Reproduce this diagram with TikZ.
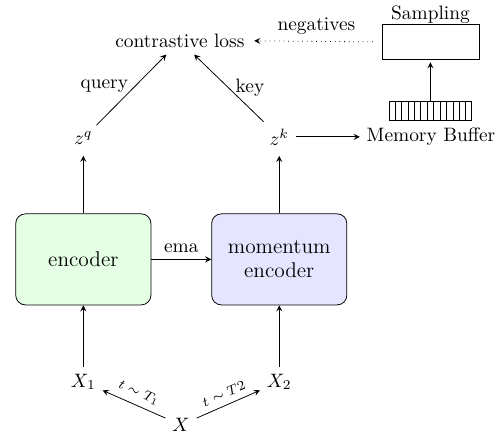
\documentclass[tikz,border=0pt]{standalone}
\usetikzlibrary{calc}

\tikzset{
	encbox/.style={draw, rounded corners=5pt, minimum width=2.45cm, minimum height=1.65cm, align=center, font=\fontsize{11}{12.5}\selectfont},
	arr/.style={->, >=stealth},
}

\begin{document}
\begin{tikzpicture}
\useasboundingbox (0,0) rectangle (9.06,7.92);

\node (loss) at (3.26,7.18) {contrastive loss};
\node[draw, minimum width=1.76cm, minimum height=0.65cm, label={[inner sep=0pt]above:Sampling}] (samp) at (7.80,7.16) {};

\node[draw, minimum width=1.50cm, minimum height=0.33cm, inner sep=0pt] (buf) at (7.80,5.91) {};
\foreach \i in {1,...,12}{
	\draw ($(buf.north west)!\i/13!(buf.north east)$) -- ($(buf.south west)!\i/13!(buf.south east)$);
}
\node (mem) at (7.81,5.44) {Memory Buffer};

\node (zq) at (1.51,5.41) {$z^q$};
\node (zk) at (5.06,5.44) {$z^k$};

\node[encbox, fill=green!10] (enc) at (1.51,3.22) {encoder};
\node[encbox, fill=blue!10] (mom) at (5.06,3.22) {momentum\\encoder};

\node (X1) at (1.51,1.0) {$X_1$};
\node (X2) at (5.06,1.0) {$X_2$};
\node (X) at (3.28,0.22) {$X$};

\draw[arr, dotted, shorten <=4.5pt, shorten >=1.5pt] (samp.west) -- (loss.east) node[midway, above] {negatives};
\draw[arr, shorten >=1pt] (buf.north) -- (samp.south);
\draw[arr] (zk.east) -- (mem.west);

\draw[arr] (zq) -- (loss) node[pos=0.55, left] {query};
\draw[arr] (zk) -- (loss) node[midway, right] {key};

\draw[arr, shorten >=2pt] (enc.north) -- (zq.south);
\draw[arr, shorten >=2pt] (mom.north) -- (zk.south);
\draw[arr] (enc.east) -- (mom.west) node[midway, above] {ema};

\draw[arr] (X1.north) -- (enc.south);
\draw[arr] (X2.north) -- (mom.south);

\draw[arr] (X) -- (X1) node[midway, sloped, above, font=\scriptsize] {$t\sim T_1$};
\draw[arr] (X) -- (X2) node[midway, sloped, above, font=\scriptsize] {$t\sim T2$};
\end{tikzpicture}
\end{document}
